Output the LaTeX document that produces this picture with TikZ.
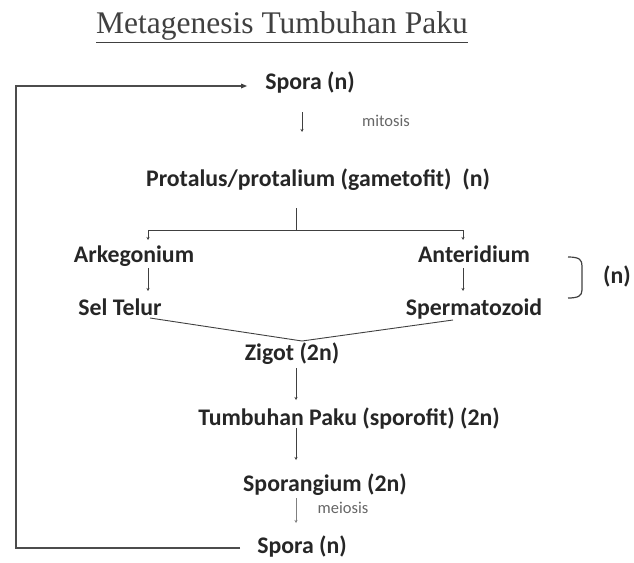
\documentclass[tikz,border=0pt]{standalone}
\usepackage{fontspec}
\setmainfont{Carlito}
\newfontfamily\titlefont{Liberation Serif}
\usetikzlibrary{arrows.meta}
\begin{document}
\begin{tikzpicture}[x=1pt,y=-1pt,
  lbl/.style={font=\fontsize{23.8}{27}\selectfont\bfseries, text=black!85, inner sep=0pt, anchor=base},
  small/.style={font=\fontsize{16.5}{19}\selectfont, text=black!60, inner sep=0pt, anchor=base},
  arr/.style={draw=black!75, line width=0.9pt, -{Stealth[length=3pt,width=3pt]}},
  thinarr/.style={draw=black!50, line width=0.6pt, -{Stealth[length=3pt,width=3pt]}},
  ln/.style={draw=black!75, line width=0.9pt},
  loop/.style={draw=black!70, line width=2.2pt}]
\useasboundingbox (0,0) rectangle (634,562);
\node[font=\fontsize{31.5}{36}\selectfont\titlefont, text=black!75, inner sep=0pt] (title) at (282,27) {\underline{Metagenesis Tumbuhan Paku}};
\node[lbl] (sp1) at (310,89) {Spora (n)};
\node[small] (mit) at (386,126) {mitosis};
\node[lbl] (pro) at (318,186) {Protalus/protalium (gametofit)\ \ (n)};
\node[lbl] (ark) at (134,262) {Arkegonium};
\node[lbl] (ant) at (474,262) {Anteridium};
\node[lbl] (sel) at (120,315) {Sel Telur};
\node[lbl] (spe) at (474,315) {Spermatozoid};
\node[lbl] (n) at (617,283) {(n)};
\node[lbl] (zig) at (292,360) {Zigot (2n)};
\node[lbl] (tum) at (349,425) {Tumbuhan Paku (sporofit) (2n)};
\node[lbl] (spg) at (325,491) {Sporangium (2n)};
\node[small] (mei) at (343,513) {meiosis};
\node[lbl] (sp2) at (302,553) {Spora (n)};
% coordinates
\coordinate (e2) at (240,548);
\coordinate (c1) at (16,548);
\coordinate (c2) at (16,86);
\coordinate (e1) at (245,86);
\coordinate (bl) at (148,230);
\coordinate (br) at (463,230);
\coordinate (bm) at (296,230);
\coordinate (zt) at (302,341);
% loop
\draw[loop] (e2) -- (c1) -- (c2) -- (e1);
\fill[black!75] (e1) ++(2,0) -- ++(-6,-2.5) -- ++(0,5) -- cycle;
% mitosis arrow
\draw[arr] (302,112) -- (302,132);
% branching
\draw[ln] (296,208) -- (bm);
\draw[ln] (bl) -- (br);
\draw[arr] (bl) -- (148,240);
\draw[arr] (br) -- (463,240);
\draw[arr] (148,268) -- (148,291);
\draw[arr] (463,268) -- (463,291);
% to zygote
\draw[ln] (150,318) -- (zt) -- (453,320);
% bracket
\draw[draw=black!75, line width=1.2pt] (568,257) .. controls (580,257) and (582,260) .. (582,266) -- (582,290) .. controls (582,296) and (578,298) .. (568,298);
% lower chain
\draw[arr] (296,368) -- (296,400);
\draw[arr] (296,428) -- (296,460);
\draw[thinarr] (296,498) -- (296,523);
\end{tikzpicture}
\end{document}
